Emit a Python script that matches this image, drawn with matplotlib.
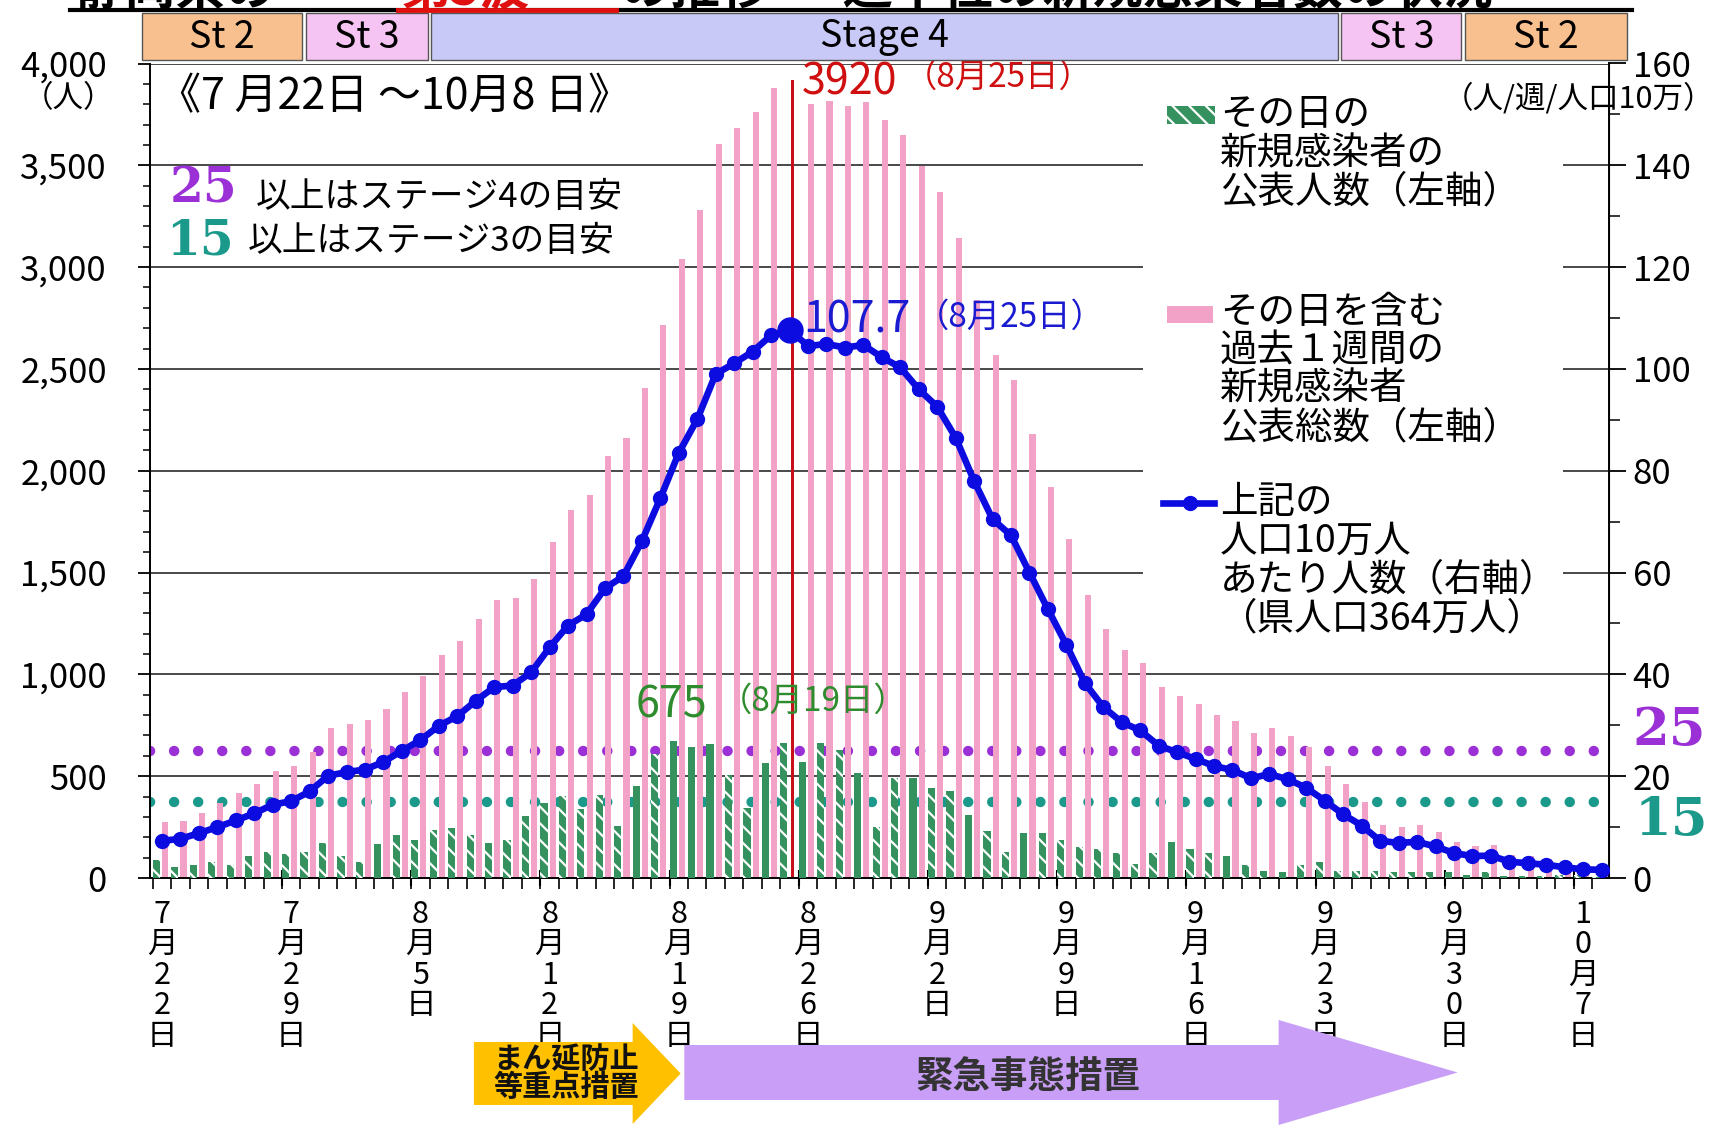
import datetime as dt
import numpy as np
import matplotlib
matplotlib.use('Agg')
import matplotlib.pyplot as plt
import matplotlib.patches as mpatches
import matplotlib.transforms as mtransforms
from matplotlib.ticker import MultipleLocator, FixedLocator

plt.rcParams['font.family'] = ['Noto Sans CJK JP', 'DejaVu Sans']
plt.rcParams['hatch.linewidth'] = 1.6

# data, one value per day from 7/22 to 10/8
start = dt.date(2021, 7, 22)
daily_new = [87, 55, 64, 78, 64, 106, 127, 117, 127, 172,
             106, 80, 165, 212, 188, 235, 244, 212, 172, 188,
             305, 370, 401, 339, 409, 254, 453, 610, 675, 642,
             660, 504, 344, 564, 662, 572, 662, 629, 517, 250,
             491, 491, 440, 427, 310, 233, 129, 220, 220, 189,
             150, 142, 122, 70, 122, 176, 142, 122, 109, 65,
             36, 28, 64, 80, 36, 36, 36, 28, 28, 31,
             28, 15, 28, 10, 10, 10, 15, 15, 7]
weekly_total = [275, 282, 320, 367, 415, 462, 525, 551, 619, 737,
                756, 778, 831, 911, 992, 1097, 1163, 1271, 1366, 1375,
                1469, 1650, 1806, 1883, 2070, 2160, 2408, 2716, 3040, 3280,
                3604, 3681, 3764, 3881, 3920, 3803, 3818, 3793, 3811, 3722,
                3648, 3498, 3368, 3143, 2840, 2566, 2445, 2181, 1920, 1663,
                1392, 1224, 1120, 1055, 939, 893, 854, 802, 771, 711,
                735, 699, 645, 552, 463, 373, 262, 251, 259, 226,
                178, 155, 160, 114, 106, 95, 77, 62, 55]
per_100k = [7.3, 7.7, 8.8, 10.0, 11.3, 12.7, 14.4, 15.1, 17.0, 20.1,
            20.8, 21.3, 22.8, 25.0, 27.1, 29.9, 31.8, 34.8, 37.5, 37.8,
            40.4, 45.3, 49.6, 51.8, 56.9, 59.3, 66.2, 74.6, 83.5, 90.1,
            99.0, 101.1, 103.4, 106.6, 107.7, 104.5, 104.9, 104.2, 104.7, 102.3,
            100.3, 96.0, 92.6, 86.5, 78.0, 70.5, 67.3, 60.0, 52.8, 45.8,
            38.3, 33.6, 30.6, 29.0, 26.0, 24.7, 23.4, 22.0, 21.2, 19.6,
            20.4, 19.4, 17.7, 15.2, 12.5, 10.3, 7.3, 6.9, 7.1, 6.2,
            4.9, 4.3, 4.4, 3.2, 2.9, 2.6, 2.1, 1.7, 1.6]
solid_days = [12, 26, 28, 29, 30, 33, 35, 38, 41, 44, 47, 55, 58]

stage_names = ['St 2', 'St 3', 'Stage 4', 'St 3', 'St 2']
stage_edges = [-1.2, 7.7, 14.5, 63.8, 70.5, 79.5]
stage_colors = ['#F9C08F', '#F6C4F2', '#C9C9F8', '#F6C4F2', '#F9C08F']

level4, level3 = 25, 15

green = '#35925F'
pink = '#F2A2C6'
blue = '#0C0CE0'
purple = '#9B30D6'
teal = '#1B9A8C'

W, H = 1716, 1128
n = len(weekly_total)
x = np.arange(n)
dates = [start + dt.timedelta(days=i) for i in range(n)]


def fx(p):
    return p / W


def fy(p):
    return 1 - p / H


fig = plt.figure(figsize=(W / 100, H / 100), dpi=100)
ax = fig.add_axes([fx(150), fy(878), (1609 - 150) / W, (878 - 63.5) / H])
ax2 = ax.twinx()

ax.set_xlim(-0.65, 78.4)
ax.set_ylim(0, 4000)
ax2.set_ylim(0, 160)

# bars
gbars = ax.bar(x - 0.305, daily_new, 0.39, color=green, edgecolor='white',
               linewidth=0, zorder=3)
for i, b in enumerate(gbars):
    if i not in solid_days:
        b.set_hatch('\\\\')
pbars = ax.bar(x + 0.165, weekly_total, 0.33, color=pink, linewidth=0, zorder=2)
pk = int(np.argmax(weekly_total))
pbars[pk].set_facecolor('#C8101A')
pbars[pk].set_width(0.2)
pbars[pk].set_x(pk + 0.06)

# threshold dotted lines (right axis units, drawn under the bars)
for lv, c in [(level4, purple), (level3, teal)]:
    ax.plot([-0.65, 78.4], [lv, lv], transform=ax2.transData, color=c, lw=7.5,
            linestyle=(0, (0.01, 2.3)), dash_capstyle='round', zorder=1.8)

# weekly rate per 100k
ax2.plot(x, per_100k, color=blue, lw=4.8, marker='o', ms=10, zorder=5)
ax2.plot(x[pk], per_100k[pk], 'o', color=blue, ms=18, zorder=6)

# axes styling
ax.set_axisbelow(True)
ax.yaxis.grid(True, color='#3a3a3a', lw=1.3)
for a in (ax, ax2):
    a.spines['top'].set_visible(False)
ax2.spines['left'].set_visible(False)
ax2.spines['bottom'].set_visible(False)
for s in ['left', 'bottom']:
    ax.spines[s].set_linewidth(1.4)
ax2.spines['right'].set_linewidth(1.4)

ax.set_yticks(range(0, 4001, 500))
ax.set_yticklabels([f'{v:,}' for v in range(0, 4001, 500)])
ax.yaxis.set_minor_locator(MultipleLocator(100))
ax.tick_params(axis='y', which='major', length=9, width=1.3, labelsize=25, pad=22)
ax.tick_params(axis='y', which='minor', length=5, width=1.1)

ax2.set_yticks(range(0, 161, 20))
ax2.yaxis.set_minor_locator(MultipleLocator(10))
ax2.tick_params(axis='y', which='major', length=12, width=1.3, labelsize=25, pad=5)
ax2.tick_params(axis='y', which='minor', length=8, width=1.1)

ax.set_xticks(x[::7])
ax.set_xticklabels(['\n'.join(f'{d.month}月{d.day}日') for d in dates[::7]],
                   fontsize=22, linespacing=0.98)
ax.xaxis.set_minor_locator(FixedLocator(np.arange(-0.5, n, 1)))
ax.tick_params(axis='x', which='major', length=0, pad=15)
ax.tick_params(axis='x', which='minor', length=8, width=1.2)
ax.vlines(np.arange(6.5, n, 7), -0.01, 0.01, transform=ax.get_xaxis_transform(),
          color='black', lw=1.5, clip_on=False)

# annotations
ax.annotate(f'{weekly_total[pk]}', (x[pk], weekly_total[pk]), xytext=(9, -2),
            textcoords='offset points', color='#D01010', fontsize=31,
            va='center', ha='left')
ax.annotate('（8月25日）', (x[pk], weekly_total[pk]), xytext=(82, 2),
            textcoords='offset points', color='#D01010', fontsize=24,
            va='center', ha='left')
ax2.annotate(f'{per_100k[pk]}', (x[pk], per_100k[pk]), xytext=(10, 7),
             textcoords='offset points', color='#1A1AD0', fontsize=31,
             va='center', ha='left', zorder=7)
ax2.annotate('（8月25日）', (x[pk], per_100k[pk]), xytext=(91, 9),
             textcoords='offset points', color='#1A1AD0', fontsize=24,
             va='center', ha='left', zorder=7)
gk = int(np.argmax(daily_new))
ax.annotate(f'{daily_new[gk]}', (x[gk] - 0.305, daily_new[gk]), xytext=(-1, 25),
            textcoords='offset points', color='#2E8B2E', fontsize=31,
            va='center', ha='center')
ax.annotate('（8月19日）', (x[gk] - 0.305, daily_new[gk]), xytext=(33, 28),
            textcoords='offset points', color='#2E8B2E', fontsize=24,
            va='center', ha='left')

ax.text(fx(158), fy(97), '《7 月22日 ～10月8 日》', transform=fig.transFigure,
        fontsize=31, va='center', ha='left')
fig.text(fx(170), fy(189), '25', family='DejaVu Serif', weight='bold',
         color=purple, fontsize=35, va='center')
fig.text(fx(256), fy(197), '以上はステージ4の目安', fontsize=25, va='center')
fig.text(fx(166), fy(241), '15', family='DejaVu Serif', weight='bold',
         color=teal, fontsize=35, va='center')
fig.text(fx(248), fy(241), '以上はステージ3の目安', fontsize=25, va='center')
fig.text(fx(1632), fy(730), '25', family='DejaVu Serif', weight='bold',
         color=purple, fontsize=38, va='center')
fig.text(fx(1635), fy(820), '15', family='DejaVu Serif', weight='bold',
         color=teal, fontsize=38, va='center')

fig.text(fx(68), fy(99), '（人）', fontsize=22, va='center', ha='center')
fig.text(fx(1714), fy(99), '（人/週/人口10万）', fontsize=22, va='center', ha='right')

# title, mostly cut off by the top edge as in the source slide
fig.text(fx(75), fy(5), '静岡県の', fontsize=36, weight='bold', va='baseline')
fig.text(fx(400), fy(5), '第5波', fontsize=36, weight='bold', color='#E01010',
         va='baseline')
fig.text(fx(620), fy(5), 'の推移 ～ 週単位の新規感染者数の状況', fontsize=36,
         weight='bold', va='baseline')
fig.add_artist(plt.Line2D([fx(70), fx(1632)], [fy(10), fy(10)], color='black', lw=3))
fig.add_artist(plt.Line2D([fx(398), fx(616)], [fy(10), fy(10)], color='#E01010', lw=3.5))

# legend drawn by hand
ax.add_patch(mpatches.Rectangle((fx(1143), fy(645)), fx(1563 - 1143), (645 - 95) / H,
                                transform=fig.transFigure, facecolor='white',
                                edgecolor='none', zorder=1))
ax.add_patch(mpatches.Rectangle((fx(1167), fy(124)), fx(48), 18 / H,
                                transform=fig.transFigure, facecolor=green,
                                edgecolor='white', lw=0, hatch='\\\\', zorder=4))
ax.add_patch(mpatches.Rectangle((fx(1167), fy(323)), fx(46), 17 / H,
                                transform=fig.transFigure, facecolor=pink,
                                edgecolor='none', zorder=4))
ax.plot([fx(1163), fx(1214)], [fy(503), fy(503)], transform=fig.transFigure,
        color=blue, lw=4.8, zorder=6, clip_on=False)
ax.plot([fx(1190)], [fy(503)], 'o', transform=fig.transFigure, color=blue,
        ms=10, zorder=6, clip_on=False)
legend_blocks = [
    (115, ['その日の', '新規感染者の', '公表人数（左軸）']),
    (312, ['その日を含む', '過去１週間の', '新規感染者', '公表総数（左軸）']),
    (503, ['上記の', '人口10万人', 'あたり人数（右軸）', '（県人口364万人）']),
]
for y0, lines in legend_blocks:
    for j, s in enumerate(lines):
        fig.text(fx(1220), fy(y0 + j * 38.5), s, fontsize=27, va='center', ha='left')

# stage band across the top
trans = mtransforms.blended_transform_factory(ax.transData, fig.transFigure)
for k, name in enumerate(stage_names):
    x0, x1 = stage_edges[k] + 0.1, stage_edges[k + 1] - 0.1
    fig.add_artist(mpatches.Rectangle((x0, fy(60)), x1 - x0, 47 / H, transform=trans,
                                      facecolor=stage_colors[k], edgecolor='#555555',
                                      lw=1.0))
    fig.text((x0 + x1) / 2, fy(37), name, transform=trans, fontsize=27,
             ha='center', va='center')

# measure arrows under the axis
yellow_arrow = [(16.9, 1042), (25.5, 1042), (25.5, 1023), (28.1, 1073.5),
                (25.5, 1124), (25.5, 1105), (16.9, 1105)]
purple_arrow = [(28.3, 1045), (60.5, 1045), (60.5, 1020), (70.2, 1072.5),
                (60.5, 1125), (60.5, 1100), (28.3, 1100)]
for pts, c in [(yellow_arrow, '#FFC000'), (purple_arrow, '#C99EF6')]:
    fig.add_artist(mpatches.Polygon([(a, fy(b)) for a, b in pts], closed=True,
                                    transform=trans, facecolor=c, edgecolor='none'))
fig.text(21.9, fy(1073), 'まん延防止\n等重点措置', transform=trans, fontsize=21,
         weight='bold', ha='center', va='center', linespacing=0.95, color='#111111')
fig.text(46.9, fy(1076), '緊急事態措置', transform=trans, fontsize=27,
         weight='bold', ha='center', va='center', color='#333333')

fig.savefig('out.png', dpi=100)
